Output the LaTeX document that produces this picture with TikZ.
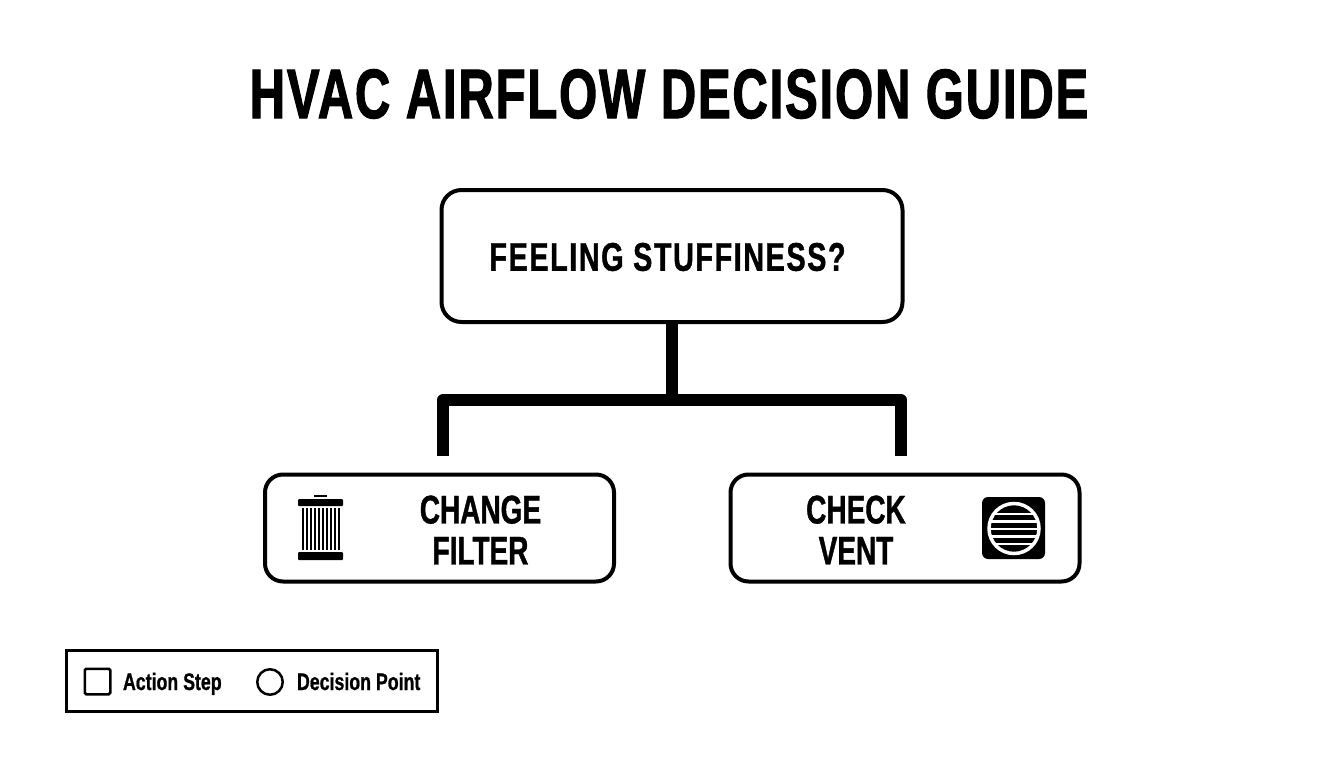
\documentclass[tikz,border=0pt]{standalone}
\usepackage{fontspec}
\setmainfont{Liberation Sans}
\newfontfamily\condA[FakeStretch=0.70,LetterSpace=2.6,FakeBold=1.5]{Liberation Sans Bold}
\newfontfamily\condQ[FakeStretch=0.72,LetterSpace=3.9,FakeBold=1]{Liberation Sans Bold}
\newfontfamily\condB[FakeStretch=0.70,FakeBold=1]{Liberation Sans Bold}
\newfontfamily\condL[FakeStretch=0.74,FakeBold=0.8]{Liberation Sans Bold}
\tikzset{
  box/.style={draw=black,line width=4pt,rounded corners=18pt,fill=white,inner sep=0pt,outer sep=0pt},
  flow/.style={draw=black,line width=12pt,line join=round},
  lbl/.style={inner sep=0pt,outer sep=0pt,align=center,text=black},
  ttl/.style={lbl,font=\condA\fontsize{70}{70}\selectfont},
  qtxt/.style={lbl,font=\condQ\fontsize{40}{40}\selectfont},
  atxt/.style={lbl,font=\condB\fontsize{40}{40}\selectfont},
  ltxt/.style={lbl,anchor=base west,font=\condL\fontsize{24}{24}\selectfont},
}
\begin{document}
\begin{tikzpicture}[x=1pt,y=-1pt]
\useasboundingbox (0,0) rectangle (1344,768);
\fill[white] (0,0) rectangle (1344,768);
\node[ttl] (title) at (669,94) {HVAC AIRFLOW DECISION GUIDE};
% boxes
\node[box,minimum width=461pt,minimum height=132pt,rounded corners=20pt] (q) at (672,256) {};
\node[qtxt] (qt) at (667.5,257) {FEELING STUFFINESS?};
\node[box,minimum width=349pt,minimum height=107pt] (a) at (439.5,528) {};
\node[box,minimum width=349pt,minimum height=107pt] (b) at (905,528) {};
\node[atxt] (at) at (480.5,530) {CHANGE\\[1pt]FILTER};
\node[atxt] (bt) at (856,530) {CHECK\\[1pt]VENT};
% connectors
\coordinate (j) at (672,400);
\coordinate (la) at (443,456);
\coordinate (lb) at (901,456);
\draw[flow] (q.south) -- (j);
\draw[flow] (la) -- (443,400) -- (901,400) -- (lb);
% filter icon
\fill[rounded corners=1pt] (298,499) rectangle (343,506);
\fill (314,495) rectangle (327,497);
\fill[rounded corners=1pt] (298,552) rectangle (343,560);
\foreach \i in {0,...,9}{\fill ({302+\i*4},508) rectangle ({304.4+\i*4},550);}
% vent icon
\fill[rounded corners=6pt] (982,497) rectangle (1045,559);
\begin{scope}
\clip (1014,528.5) circle (25);
\foreach \yy in {514,521.5,529,536.5,544}{\fill[white] (985,\yy-1.3) rectangle (1043,\yy+1.3);}
\end{scope}
\draw[white,line width=3.5pt] (1014,528.5) circle (25);
% legend
\node[draw=black,line width=3pt,minimum width=371pt,minimum height=61.5pt,inner sep=0pt,outer sep=0pt] (leg) at (252,681) {};
\node[draw=black,line width=2.5pt,rounded corners=1.5pt,minimum width=25.5pt,minimum height=25.5pt,inner sep=0pt,outer sep=0pt] (sq) at (97.5,681.5) {};
\node[draw=black,line width=2.5pt,circle,minimum size=25.5pt,inner sep=0pt,outer sep=0pt] (ci) at (270,682) {};
\node[ltxt] (l1) at (123,690) {Action Step};
\node[ltxt] (l2) at (297,690) {Decision Point};
\end{tikzpicture}
\end{document}
